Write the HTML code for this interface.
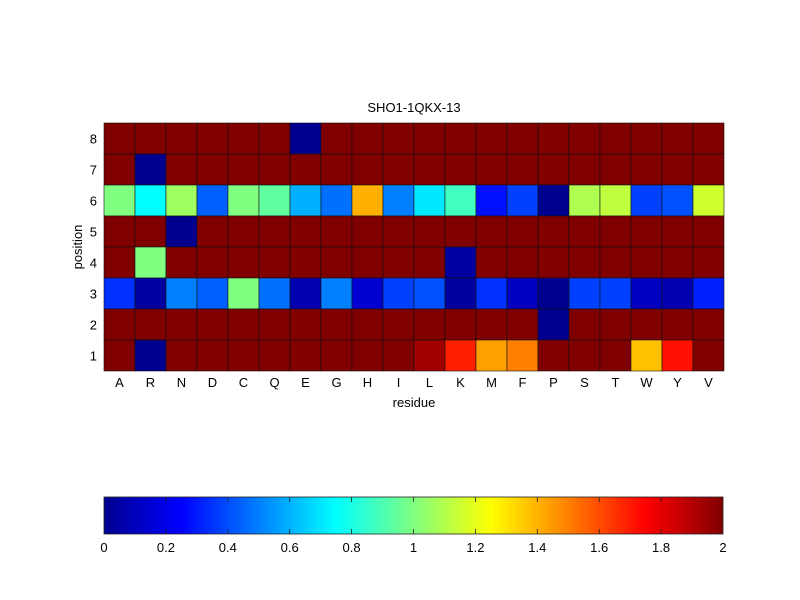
<!DOCTYPE html>
<html><head><style>body{margin:0;background:#fff}svg{display:block;font-family:"Liberation Sans",Arial,sans-serif}</style></head><body>
<svg width="800" height="600" xmlns="http://www.w3.org/2000/svg">
<rect width="800" height="600" fill="#fff"/>
<text x="414" y="112" font-size="13" text-anchor="middle">SHO1-1QKX-13</text>
<g id="cells" stroke="#111" stroke-width="0.6"></g>
<g id="lab" font-size="13"></g>
<text x="414" y="407" font-size="13" text-anchor="middle">residue</text>
<text transform="translate(82,247) rotate(-90)" font-size="13" text-anchor="middle">position</text>
<defs><linearGradient id="jet" x1="0" x2="1" y1="0" y2="0">
<stop offset="0" stop-color="#00008f"/><stop offset="0.125" stop-color="#0000ff"/><stop offset="0.375" stop-color="#00ffff"/><stop offset="0.625" stop-color="#ffff00"/><stop offset="0.875" stop-color="#ff0000"/><stop offset="1" stop-color="#800000"/></linearGradient></defs>
<rect x="104" y="497" width="619" height="37" fill="url(#jet)" stroke="#222" stroke-width="0.8"/>
<g id="cb" font-size="13"></g>
</svg>
<script>
var cols="ARNDCQEGHILKMFPSTWYV".split("");
var D="#800000",B="#00008f";
var rows={
8:[D,D,D,D,D,D,B,D,D,D,D,D,D,D,D,D,D,D,D,D],
7:[D,B,D,D,D,D,D,D,D,D,D,D,D,D,D,D,D,D,D,D],
6:["#80ff80","#00ffff","#a0ff60","#0060ff","#80ff80","#60ffa0","#00b0ff","#0070ff","#ffb000","#0080ff","#00e8ff","#40ffc0","#0010ff","#0040ff",B,"#b0ff50","#c0ff40","#0040ff","#0050ff","#d0ff30"],
5:[D,D,B,D,D,D,D,D,D,D,D,D,D,D,D,D,D,D,D,D],
4:[D,"#80ff80",D,D,D,D,D,D,D,D,D,"#0000a0",D,D,D,D,D,D,D,D],
3:["#0030ff","#0000a0","#0080ff","#0060ff","#80ff80","#0070ff","#0000b0","#0080ff","#0000d0","#0040ff","#0050ff","#00009f","#0030ff","#0000c0","#000090","#0040ff","#0040ff","#0000c0","#0000b0","#0020ff"],
2:[D,D,D,D,D,D,D,D,D,D,D,D,D,D,B,D,D,D,D,D],
1:[D,B,D,D,D,D,D,D,D,D,"#a00000","#ff2000","#ffa000","#ff8000",D,D,D,"#ffc000","#ff1000",D]};
var ns="http://www.w3.org/2000/svg",g=document.getElementById("cells"),L=document.getElementById("lab");
function el(t,a,p,txt){var e=document.createElementNS(ns,t);for(var k in a)e.setAttribute(k,a[k]);if(txt!=null)e.textContent=txt;p.appendChild(e);}
var x0=104,y0=123,w=31,h=31;
for(var r=8;r>=1;r--){var y=y0+(8-r)*h;for(var c=0;c<20;c++)el("rect",{x:x0+c*w,y:y,width:w,height:h,fill:rows[r][c]},g);
el("text",{x:97,y:y+h/2+5,"text-anchor":"end"},L,r);}
for(var c=0;c<20;c++)el("text",{x:x0+c*w+w/2,y:387,"text-anchor":"middle"},L,cols[c]);
var cb=document.getElementById("cb");
for(var i=0;i<=10;i++){var x=104+619*i/10;
if(i>0&&i<10){el("line",{x1:x,x2:x,y1:497,y2:502,stroke:"#222","stroke-width":0.8},cb);el("line",{x1:x,x2:x,y1:529,y2:534,stroke:"#222","stroke-width":0.8},cb);}
var v=(i*0.2);var s=(i%5==0)?String(Math.round(v)):v.toFixed(1);
el("text",{x:x,y:552,"text-anchor":"middle"},cb,s);}
</script>
</body></html>
